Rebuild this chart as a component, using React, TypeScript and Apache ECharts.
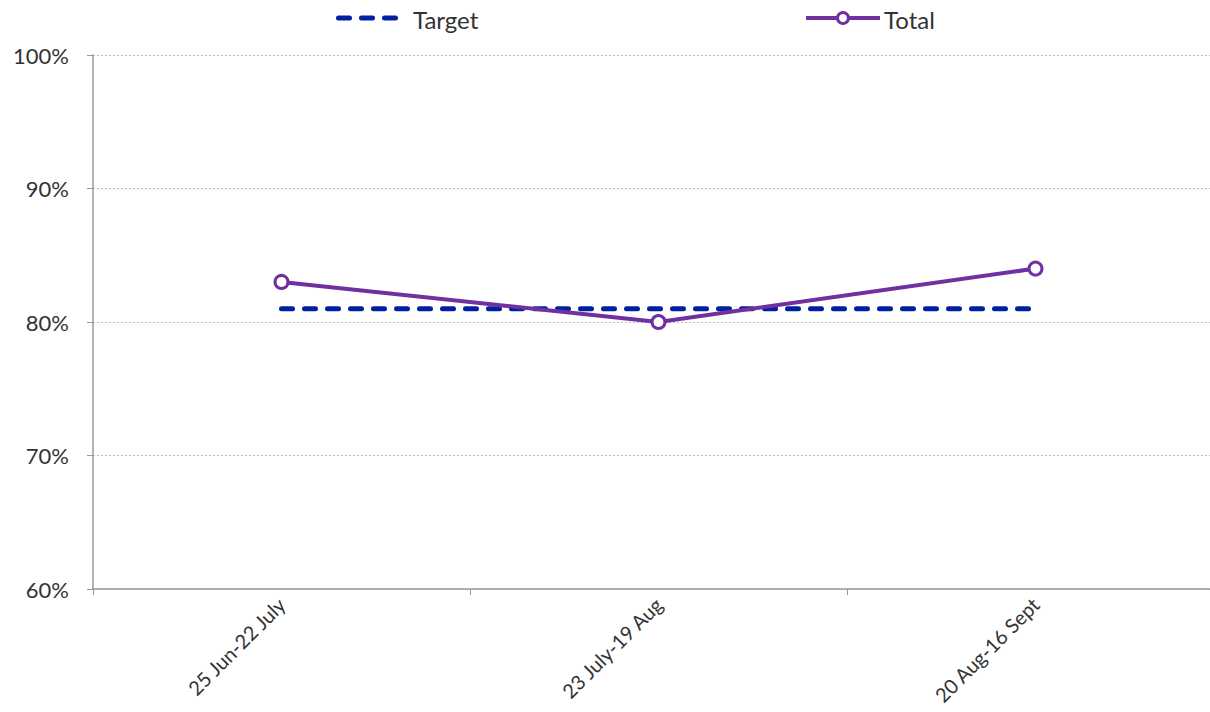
import React, { useEffect, useRef } from "react";
import * as echarts from "echarts";

const categories = ["25 Jun-22 July", "23 July-19 Aug", "20 Aug-16 Sept"];
const targetValues = [81, 81, 81];
const totalValues = [83, 80, 84];
const yTicks = [60, 70, 80, 90, 100];
const legendNames = ["Target", "Total"];

const FONT = "Lato, 'Open Sans', sans-serif";
const BLUE = "#0020a0";
const PURPLE = "#7030a0";

export default function App() {
  const ref = useRef<HTMLDivElement>(null);
  useEffect(() => {
    document.body.style.margin = "0";
    if (!ref.current) return;
    const chart = echarts.init(ref.current, null, { renderer: "svg" });
    chart.setOption({
      animation: false,
      textStyle: { fontFamily: FONT },
      graphic: [
        {
          type: "line",
          shape: { x1: 338.5, y1: 18, x2: 395.5, y2: 18 },
          style: { stroke: BLUE, lineWidth: 5, lineDash: [11, 12], lineCap: "round" },
        },
        {
          type: "text",
          x: 413,
          y: 19,
          style: { text: legendNames[0], fontSize: 24, fill: "#333", fontFamily: FONT, verticalAlign: "middle" },
        },
        {
          type: "line",
          shape: { x1: 806, y1: 18, x2: 880, y2: 18 },
          style: { stroke: PURPLE, lineWidth: 4 },
        },
        {
          type: "circle",
          shape: { cx: 843, cy: 18, r: 5.5 },
          style: { fill: "#fff", stroke: PURPLE, lineWidth: 3 },
        },
        {
          type: "text",
          x: 884,
          y: 19,
          style: { text: legendNames[1], fontSize: 24, fill: "#333", fontFamily: FONT, verticalAlign: "middle" },
        },
      ],
      grid: { left: 93, top: 55, width: 1131, height: 534, containLabel: false },
      xAxis: {
        type: "category",
        data: categories,
        boundaryGap: true,
        axisLine: { lineStyle: { color: "#999", width: 1.5 } },
        axisTick: { show: true, length: 6, lineStyle: { color: "#999" } },
        axisLabel: { rotate: 45, fontSize: 20, color: "#333", fontFamily: FONT, margin: 12 },
      },
      yAxis: {
        type: "value",
        min: yTicks[0],
        max: yTicks[yTicks.length - 1],
        interval: 10,
        axisLine: { show: true, lineStyle: { color: "#999", width: 1.5 } },
        axisTick: { show: true, length: 6, lineStyle: { color: "#999" } },
        axisLabel: { formatter: "{value}%", fontSize: 22, color: "#333", fontFamily: FONT, margin: 24 },
        splitLine: { show: true, lineStyle: { color: "#bbb", type: [2, 2], width: 1 } },
      },
      series: [
        {
          name: "Target",
          type: "line",
          data: targetValues,
          symbol: "none",
          lineStyle: { color: BLUE, width: 5, type: [11, 12], cap: "round" },
          itemStyle: { color: BLUE },
        },
        {
          name: "Total",
          type: "line",
          data: totalValues,
          symbol: "circle",
          symbolSize: 13,
          lineStyle: { color: PURPLE, width: 4 },
          itemStyle: { color: "#fff", borderColor: PURPLE, borderWidth: 3 },
        },
      ],
    });
    return () => chart.dispose();
  }, []);
  return (
    <div style={{ width: 1210, height: 712, overflow: "hidden" }}>
      <div ref={ref} style={{ width: 1240, height: 712 }} />
    </div>
  );
}
